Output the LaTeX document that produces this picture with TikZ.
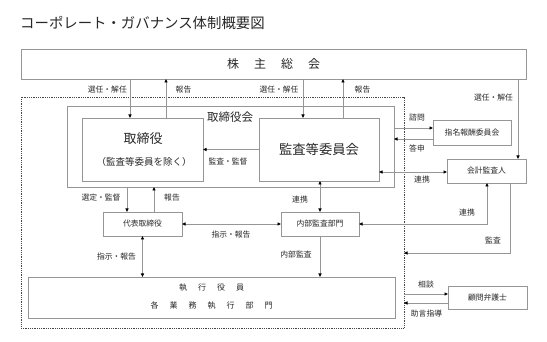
\documentclass[tikz,border=0pt]{standalone}
\usepackage{fontspec}
\setmainfont{Noto Sans CJK JP}
\usetikzlibrary{arrows.meta}
\definecolor{lg}{RGB}{150,150,150}
\definecolor{tx}{RGB}{40,40,40}
\definecolor{dk}{RGB}{70,70,70}
\tikzset{
  box/.style={draw=lg, line width=0.8pt, rectangle, anchor=north west, inner sep=0pt, outer sep=0pt, text=tx, font=\fontsize{7.8}{9}\selectfont},
  lab/.style={font=\fontsize{7.8}{9}\selectfont, text=tx, inner sep=0pt},
  conn/.style={draw=lg, line width=0.8pt},
  ar/.style={conn, -{Triangle[length=3.5pt,width=3pt,color=black]}},
  dar/.style={conn, {Triangle[length=3.5pt,width=3pt,color=black]}-{Triangle[length=3.5pt,width=3pt,color=black]}}
}
\newcommand{\gapx}[1]{\hspace{#1pt}}
\begin{document}
\begin{tikzpicture}[x=1pt,y=-1pt]
\useasboundingbox (0,0) rectangle (547,342);
\fill[white] (0,0) rectangle (547,342);
% title
\node[anchor=west, inner sep=0pt, text=tx, font=\fontsize{14.4}{15}\selectfont] (title) at (20,23) {コーポレート・ガバナンス体制概要図};
% boxes
\node[box, minimum width=505, minimum height=30, font=\fontsize{12}{12}\selectfont] (sh) at (21,49) {株\gapx{15}主\gapx{15}総\gapx{15}会};
\node[draw=dk, densely dotted, line width=0.8pt, anchor=north west, inner sep=0pt, outer sep=0pt, minimum width=383, minimum height=231] (grp) at (21,97) {};
\node[box, minimum width=327, minimum height=81] (board) at (67,106) {};
\node[lab, font=\fontsize{11.5}{12}\selectfont] (boardlab) at (230,117) {取締役会};
\node[box, minimum width=121, minimum height=63] (tori) at (82,118) {};
\node[lab, font=\fontsize{13}{13}\selectfont] (toril1) at (143,139) {取締役};
\node[lab, font=\fontsize{9.5}{10}\selectfont] (toril2) at (144,162) {（監査等委員を除く）};
\node[box, minimum width=120, minimum height=63, font=\fontsize{13.3}{14}\selectfont] (kansa) at (259,118) {監査等委員会};
\node[box, minimum width=78, minimum height=25] (shimei) at (433,120) {指名報酬委員会};
\node[box, minimum width=79, minimum height=24] (kaikei) at (447,159) {会計監査人};
\node[box, minimum width=79, minimum height=24] (daihyo) at (103,212) {代表取締役};
\node[box, minimum width=78, minimum height=24] (naibu) at (281,212) {内部監査部門};
\node[box, minimum width=367, minimum height=41] (shikko) at (28,277) {};
\node[lab, font=\fontsize{8}{8}\selectfont] (shl1) at (211.5,288) {執\gapx{11}行\gapx{11}役\gapx{11}員};
\node[lab, font=\fontsize{8}{8}\selectfont] (shl2) at (211.5,305) {各\gapx{11}業\gapx{11}務\gapx{11}執\gapx{11}行\gapx{11}部\gapx{11}門};
\node[box, minimum width=79, minimum height=23] (komon) at (448,286) {顧問弁護士};
% connectors
\draw[ar] (sh.south -| 130,0) -- (tori.north -| 130,0);
\node[lab, anchor=east] (l1) at (127,90) {選任・解任};
\draw[ar] (tori.north -| 166,0) -- (sh.south -| 166,0);
\node[lab] (l2) at (183.5,90) {報告};
\draw[ar] (sh.south -| 303,0) -- (kansa.north -| 303,0);
\node[lab] (l3) at (279,90) {選任・解任};
\draw[ar] (kansa.north -| 343,0) -- (sh.south -| 343,0);
\node[lab] (l4) at (362.5,90) {報告};
\draw[ar] (sh.south -| 518,0) -- (kaikei.north -| 518,0);
\node[lab] (l5) at (493.5,98) {選任・解任};
\draw[ar] (kansa.west) -- (tori.east);
\node[lab] (l6) at (228,162) {監査・監督};
\draw[ar] (board.east |- 0,128) -- (shimei.west |- 0,128);
\node[lab] (l7) at (417,118) {諮問};
\draw[ar] (shimei.west |- 0,139) -- (board.east |- 0,139);
\node[lab] (l8) at (417,148) {答申};
\draw[dar] (kansa.east |- 0,172) -- (kaikei.west |- 0,172);
\node[lab] (l9) at (422,180) {連携};
\draw[dar] (kansa.south -| 320,0) -- (naibu.north -| 320,0);
\node[lab] (l10) at (300,200) {連携};
\draw[dar] (kaikei.south -| 487,0) |- (naibu.east);
\node[lab] (l11) at (467,213) {連携};
\draw[ar] (kaikei.south -| 510,0) |- (grp.east |- 0,253);
\node[lab] (l12) at (493,240) {監査};
\draw[ar] (board.south -| 127,0) -- (daihyo.north -| 127,0);
\node[lab] (l13) at (101,198) {選定・監督};
\draw[ar] (daihyo.north -| 154,0) -- (board.south -| 154,0);
\node[lab] (l14) at (172,198) {報告};
\draw[dar] (daihyo.east) -- (naibu.west);
\node[lab] (l15) at (231,235) {指示・報告};
\draw[dar] (daihyo.south) -- (shikko.north -| daihyo.south);
\node[lab] (l16) at (116.5,257) {指示・報告};
\draw[ar] (naibu.south) -- (shikko.north -| naibu.south);
\node[lab] (l17) at (296,255) {内部監査};
\draw[ar] (grp.east |- 0,294) -- (komon.west |- 0,294);
\node[lab] (l18) at (426,285) {相談};
\draw[ar] (komon.west |- 0,303) -- (grp.east |- 0,303);
\node[lab] (l19) at (426.5,314) {助言指導};
\end{tikzpicture}
\end{document}
